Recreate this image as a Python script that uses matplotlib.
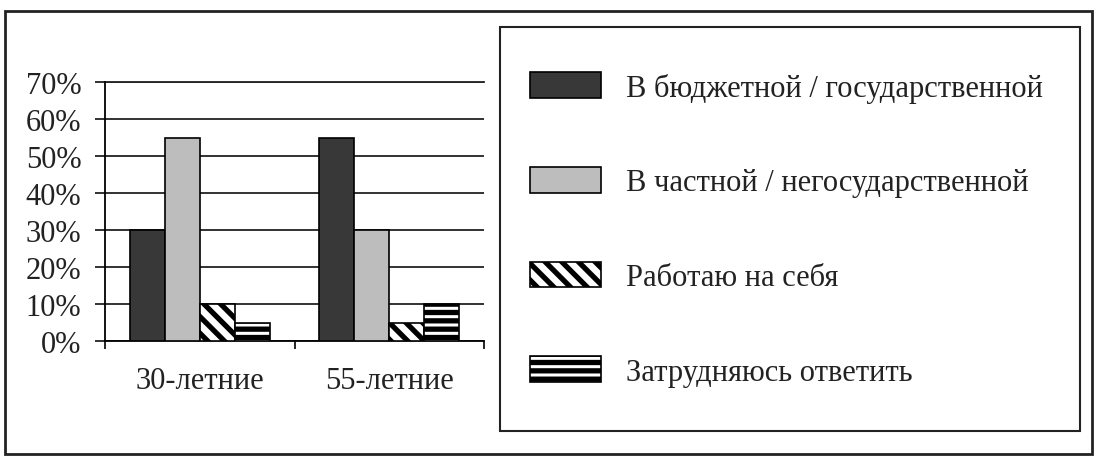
import matplotlib.pyplot as plt
import matplotlib.patches as mpatches
import numpy as np

plt.rcParams['font.family'] = ['Liberation Serif', 'DejaVu Serif']
plt.rcParams['hatch.linewidth'] = 3.8
plt.rcParams['hatch.color'] = 'black'

groups = ['30-летние', '55-летние']
series = ['В бюджетной / государственной',
          'В частной / негосударственной',
          'Работаю на себя',
          'Затрудняюсь ответить']
budget = [30, 55]
private = [55, 30]
self_employed = [10, 5]
unsure = [5, 10]
yticks = [0, 10, 20, 30, 40, 50, 60, 70]

values = [budget, private, self_employed, unsure]
faces = ['#383838', '#bdbdbd', 'white', 'white']
hatches = [None, None, '\\\\', '--']

fs = 22

fig = plt.figure(figsize=(11, 4.64), dpi=100)
ax = fig.add_axes([105 / 1100, 1 - 342 / 464, 379 / 1100, 259 / 464])

x = np.arange(len(groups))
w = 0.185
handles = []
for i, (vals, fc, h) in enumerate(zip(values, faces, hatches)):
    bars = ax.bar(x + (i - 1.5) * w, vals, w, color=fc, edgecolor='black',
                  linewidth=1.2, hatch=h, label=series[i], zorder=3)
    handles.append(bars)

ax.set_xlim(-0.5, 1.5)
ax.set_ylim(0, 70)
ax.set_yticks(yticks)
ax.set_yticklabels([f'{v}%' for v in yticks])
ax.yaxis.grid(True, color='#222222', linewidth=1.3, zorder=0)
ax.set_xticks(x)
ax.set_xticklabels(groups)
ax.set_xticks([-0.5, 0.5, 1.5], minor=True)
ax.tick_params(axis='x', which='major', length=0, pad=18, labelsize=fs, labelcolor='#222222')
ax.tick_params(axis='x', which='minor', length=6, width=1.2, direction='out')
ax.tick_params(axis='y', length=7, width=1.3, pad=10, labelsize=fs, color='#222222',
               labelcolor='#222222')
for s in ['top', 'right']:
    ax.spines[s].set_visible(False)
ax.spines['left'].set_linewidth(1.3)
ax.spines['bottom'].set_linewidth(1.3)
ax.axhline(70, color='#222222', linewidth=1.3, clip_on=False, zorder=0)

leg = fig.legend(handles=handles, loc='center left',
                 bbox_to_anchor=(530 / 1100, 1 - 230.5 / 464),
                 frameon=False, fontsize=fs, handlelength=2.32, handleheight=0.92,
                 handletextpad=0.82, labelspacing=2.1, borderpad=0, borderaxespad=0)
for t in leg.get_texts():
    t.set_color('#222222')

# legend frame and outer frame
fig.add_artist(mpatches.Rectangle((500 / 1100, 1 - 432 / 464), 580 / 1100, 404 / 464,
                                  transform=fig.transFigure, fill=False,
                                  edgecolor='#222222', linewidth=1.5))
fig.add_artist(mpatches.Rectangle((5 / 1100, 1 - 455 / 464), 1087 / 1100, 443 / 464,
                                  transform=fig.transFigure, fill=False,
                                  edgecolor='#222222', linewidth=2))

fig.savefig('out.png', dpi=100)
